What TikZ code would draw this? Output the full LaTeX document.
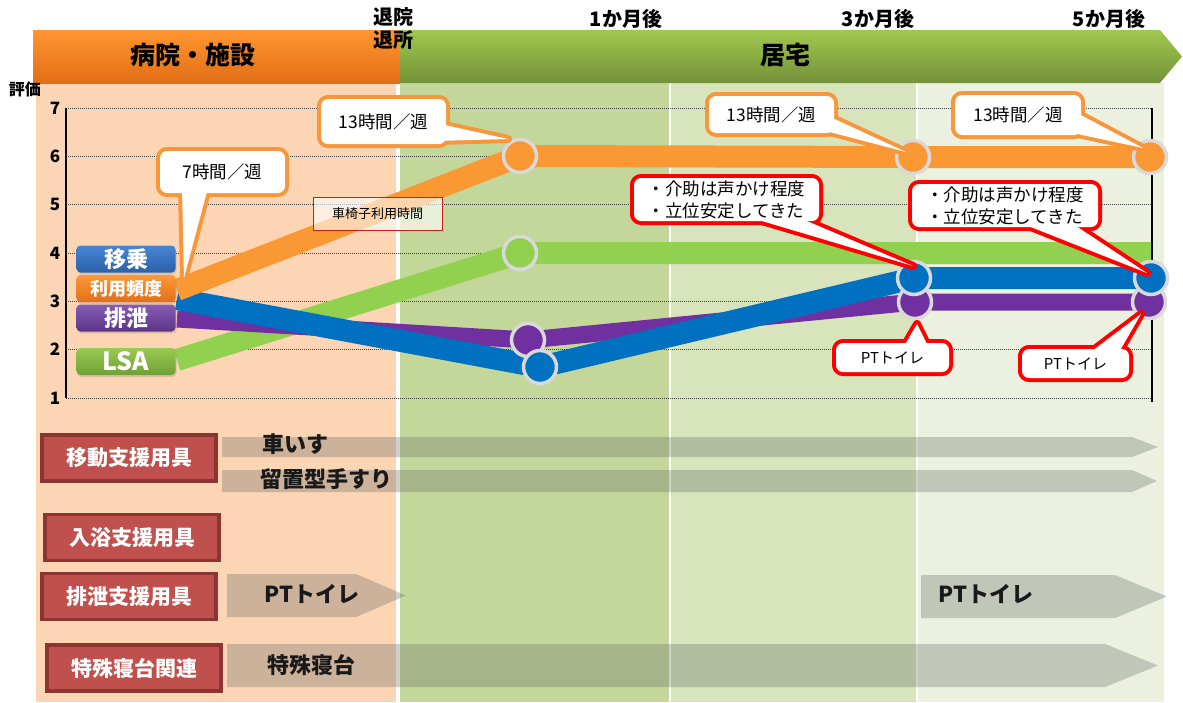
\documentclass[tikz,border=0pt]{standalone}
\usepackage{fontspec}
\setmainfont{Noto Sans CJK JP}
\usetikzlibrary{shadows}
\definecolor{peach}{RGB}{252,213,180}
\definecolor{olivea}{RGB}{196,215,155}
\definecolor{oliveb}{RGB}{216,228,188}
\definecolor{olivec}{RGB}{235,241,222}
\definecolor{sorange}{RGB}{250,152,52}
\definecolor{sgreen}{RGB}{146,208,80}
\definecolor{sblue}{RGB}{0,112,192}
\definecolor{spurple}{RGB}{112,48,160}
\definecolor{ring}{RGB}{217,217,217}
\definecolor{boxred}{RGB}{192,80,77}
\definecolor{boxredd}{RGB}{140,52,50}
\definecolor{callred}{RGB}{255,0,0}
\definecolor{callorange}{RGB}{248,150,60}
\definecolor{barshade}{RGB}{95,100,98}
\tikzset{
  series/.style={line width=22pt, line join=round},
  dot/.style={circle, draw=ring, line width=3.5pt, minimum size=33pt, inner sep=0pt},
  grid/.style={dash pattern=on 1pt off 1pt, line width=0.9pt, black!75},
  ylab/.style={font=\bfseries\fontsize{17}{17}\selectfont},
  head/.style={font=\bfseries\fontsize{20}{23}\selectfont, align=center},
  tag/.style={rounded corners=4pt, minimum width=99pt, minimum height=27pt, inner sep=0pt,
    text=white, font=\bfseries\fontsize{22}{22}\selectfont,
    drop shadow={opacity=0.25, shadow xshift=1pt, shadow yshift=-2pt}},
  redbox/.style={fill=boxred, draw=boxredd, line width=3.5pt, minimum width=174pt,
    minimum height=46pt, inner sep=0pt, text=white, font=\bfseries\fontsize{21}{21}\selectfont},
  bar/.style={fill=barshade, fill opacity=0.3},
  bartext/.style={anchor=west, text=black!90, font=\bfseries\fontsize{22}{22}\selectfont},
  callo/.style={draw=callorange, line width=8pt, line join=round},
  callr/.style={draw=callred, line width=8pt, line join=round},
  calltext/.style={font=\fontsize{17.5}{22}\selectfont, align=left}
}
\begin{document}
\begin{tikzpicture}[x=1pt,y=-1pt]
\useasboundingbox (0,0) rectangle (1183,702);
\fill[white] (0,0) rectangle (1183,702);
\fill[peach] (36,83) rectangle (396,702);
\fill[olivea] (400,83) rectangle (669,702);
\fill[oliveb] (671,83) rectangle (916,702);
\fill[olivec] (918,83) rectangle (1164,702);
\shade[top color={rgb,255:red,255;green,150;blue,48}, bottom color={rgb,255:red,226;green,110;blue,22}]
  (33,30) rectangle (400,83);
\shade[top color={rgb,255:red,160;green,200;blue,78}, bottom color={rgb,255:red,116;green,146;blue,58}]
  (400,30) -- (1160,30) -- (1182,56.5) -- (1160,83) -- (400,83) -- cycle;
\node[font=\bfseries\fontsize{25}{25}\selectfont] (hosp) at (193,55) {病院・施設};
\node[font=\bfseries\fontsize{25}{25}\selectfont] (home) at (785,55) {居宅};
\node[head] (leave) at (393,28) {退院\\退所};
\node[head] (m1) at (626,19) {1か月後};
\node[head] (m3) at (878,19) {3か月後};
\node[head] (m5) at (1109,19) {5か月後};
\node[font=\bfseries\fontsize{16}{16}\selectfont] (score) at (25,89) {評価};
\foreach \v in {1,...,7}{
  \node[ylab] (y\v) at (55,{398-(\v-1)*48.33}) {\v};
  \draw[grid] (66,{398-(\v-1)*48.33}) -- (1151,{398-(\v-1)*48.33});
}
\draw[line width=1.2pt] (66,108) -- (66,398);
\draw[line width=1.6pt] (1152,108) -- (1152,402);
\coordinate (os) at (177,290);
\coordinate (o1) at (520,156);
\coordinate (o2) at (913,157);
\coordinate (o3) at (1150,157);
\coordinate (gs) at (177,360);
\coordinate (g1) at (520,253);
\coordinate (ge) at (1151,253);
\coordinate (ps) at (177,319);
\coordinate (p1) at (528,340);
\coordinate (p2) at (915,302);
\coordinate (p3) at (1149,302);
\coordinate (bs) at (177,299);
\coordinate (b1) at (540,367);
\coordinate (b2) at (914,278);
\coordinate (b3) at (1151,278);
\draw[series, sgreen] (gs) -- (g1) -- (ge);
\draw[series, spurple, line width=17pt] (ps) -- (p1) -- (p2) -- (p3);
\draw[series, sblue] (bs) -- (b1) -- (b2) -- (b3);
\draw[series, sorange] (os) -- (o1) -- (o2) -- (o3);
\node[dot, fill=sgreen] (gd1) at (g1) {};
\node[dot, fill=spurple] (pd1) at (p1) {};
\node[dot, fill=spurple] (pd2) at (p2) {};
\node[dot, fill=spurple] (pd3) at (p3) {};
\node[dot, fill=sblue] (bd1) at (b1) {};
\node[dot, fill=sblue] (bd2) at (b2) {};
\node[dot, fill=sblue] (bd3) at (b3) {};
\node[dot, fill=sorange] (od1) at (o1) {};
\node[dot, fill=sorange] (od2) at (o2) {};
\node[dot, fill=sorange] (od3) at (o3) {};
\node[tag, top color={rgb,255:red,72;green,134;blue,212}, bottom color={rgb,255:red,42;green,96;blue,168}] (transfer) at (126,259) {移乗};
\node[tag, top color={rgb,255:red,252;green,152;blue,58}, bottom color={rgb,255:red,226;green,112;blue,24}, font=\bfseries\fontsize{18}{18}\selectfont] (freq) at (126,288.5) {利用頻度};
\node[tag, top color={rgb,255:red,134;green,92;blue,182}, bottom color={rgb,255:red,92;green,52;blue,134}] (toilet) at (126,318) {排泄};
\node[tag, top color={rgb,255:red,152;green,202;blue,84}, bottom color={rgb,255:red,112;green,160;blue,52}, font=\bfseries\fontsize{25}{25}\selectfont] (lsa) at (126,361.5) {LSA};
\node[fill=white, fill opacity=0.6, text opacity=1, draw={rgb,255:red,200;green,30;blue,30}, line width=1pt,
  minimum width=129pt, minimum height=33pt, inner sep=0pt, font=\fontsize{13}{13}\selectfont] (wtime) at (377.5,213.5) {車椅子利用時間};
\coordinate (t7) at (184,278);
\draw[callo, rounded corners=7pt] (160,151) rectangle (285,193);
\draw[callo] (182,188) -- (t7) -- (208,188) -- cycle;
\fill[white, rounded corners=7pt] (160,151) rectangle (285,193);
\fill[white] (182,188) -- (t7) -- (208,188) -- cycle;
\node[calltext] (c7) at (222.5,172) {7時間／週};
\coordinate (t13a) at (508,139);
\draw[callo, rounded corners=7pt] (321,99) rectangle (446,144);
\draw[callo] (440,124) -- (t13a) -- (436,141) -- cycle;
\fill[white, rounded corners=7pt] (321,99) rectangle (446,144);
\fill[white] (440,124) -- (t13a) -- (436,141) -- cycle;
\node[calltext] (c13a) at (383.5,121.5) {13時間／週};
\coordinate (t13b) at (906,152);
\draw[callo, rounded corners=7pt] (709,96) rectangle (834,133);
\draw[callo] (828,116) -- (t13b) -- (822,130) -- cycle;
\fill[white, rounded corners=7pt] (709,96) rectangle (834,133);
\fill[white] (828,116) -- (t13b) -- (822,130) -- cycle;
\node[calltext] (c13b) at (771.5,114.5) {13時間／週};
\coordinate (t13c) at (1143,148);
\draw[callo, rounded corners=7pt] (955,95) rectangle (1081,135);
\draw[callo] (1075,112) -- (t13c) -- (1068,132) -- cycle;
\fill[white, rounded corners=7pt] (955,95) rectangle (1081,135);
\fill[white] (1075,112) -- (t13c) -- (1068,132) -- cycle;
\node[calltext] (c13c) at (1018,115) {13時間／週};
\coordinate (tr1) at (913,266);
\draw[callr, rounded corners=7pt] (634,178) rectangle (819,221);
\draw[callr] (745,216) -- (tr1) -- (795,216) -- cycle;
\fill[white, rounded corners=7pt] (634,178) rectangle (819,221);
\fill[white] (745,216) -- (tr1) -- (795,216) -- cycle;
\node[calltext] (r1) at (726.5,199.5) {・介助は声かけ程度\\・立位安定してきた};
\coordinate (tr2) at (1147,273);
\draw[callr, rounded corners=7pt] (912,184) rectangle (1098,227);
\draw[callr] (1018,222) -- (tr2) -- (1070,222) -- cycle;
\fill[white, rounded corners=7pt] (912,184) rectangle (1098,227);
\fill[white] (1018,222) -- (tr2) -- (1070,222) -- cycle;
\node[calltext] (r2) at (1005,205.5) {・介助は声かけ程度\\・立位安定してきた};
\coordinate (tp1) at (917,324);
\draw[callr, rounded corners=7pt] (836,343) rectangle (949,372);
\draw[callr] (903,348) -- (tp1) -- (929,348) -- cycle;
\fill[white, rounded corners=7pt] (836,343) rectangle (949,372);
\fill[white] (903,348) -- (tp1) -- (929,348) -- cycle;
\node[calltext, font=\fontsize{15}{15}\selectfont] (pt1) at (892.5,358) {PTトイレ};
\coordinate (tp2) at (1141,314);
\draw[callr, rounded corners=7pt] (1022,349) rectangle (1129,378);
\draw[callr] (1088,354) -- (tp2) -- (1118,354) -- cycle;
\fill[white, rounded corners=7pt] (1022,349) rectangle (1129,378);
\fill[white] (1088,354) -- (tp2) -- (1118,354) -- cycle;
\node[calltext, font=\fontsize{15}{15}\selectfont] (pt2) at (1075.5,364) {PTトイレ};
\node[redbox] (move) at (129,458) {移動支援用具};
\node[redbox] (bath) at (132,537.5) {入浴支援用具};
\node[redbox] (excr) at (129,596.5) {排泄支援用具};
\node[redbox] (bed) at (134,668) {特殊寝台関連};
\fill[bar] (222,437) -- (1132,437) -- (1158,447) -- (1132,457) -- (222,457) -- cycle;
\fill[bar] (222,470) -- (1132,470) -- (1157,481) -- (1132,492) -- (222,492) -- cycle;
\fill[bar] (227,574) -- (356,574) -- (406,595.5) -- (356,617) -- (227,617) -- cycle;
\fill[bar] (921,575) -- (1115,575) -- (1167,596.5) -- (1115,618) -- (921,618) -- cycle;
\fill[bar] (227,644) -- (1105,644) -- (1158,665.5) -- (1105,687) -- (227,687) -- cycle;
\node[bartext] (wchair) at (259,444) {車いす};
\node[bartext] (rail) at (257,479) {留置型手すり};
\node[bartext] (ptl) at (261,594) {PTトイレ};
\node[bartext] (ptr) at (935,594) {PTトイレ};
\node[bartext] (sbed) at (264,665) {特殊寝台};
\end{tikzpicture}
\end{document}
